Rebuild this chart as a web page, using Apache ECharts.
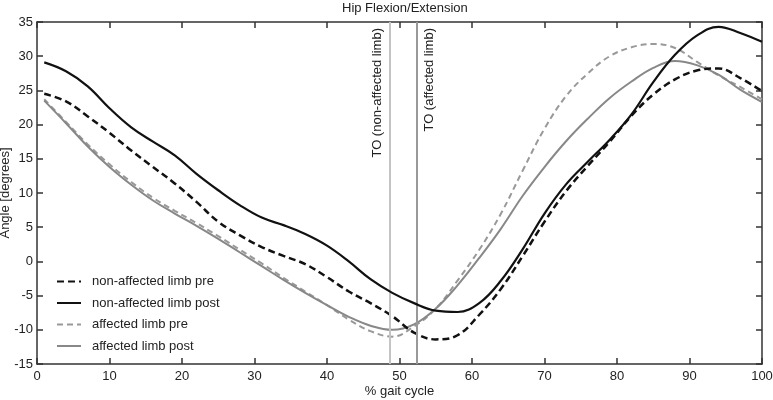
<!DOCTYPE html>
<html>
<head>
<meta charset="utf-8">
<script src="https://cdn.jsdelivr.net/npm/echarts@6/dist/echarts.min.js"></script>
<style>
  html, body { margin: 0; padding: 0; background: #fff; }
  #chart { width: 773px; height: 400px; }
</style>
</head>
<body>
<div id="chart"></div>
<script>
// % gait cycle samples
const gait = [1, 4, 7, 10, 13, 16, 19, 22, 25, 28, 31, 34, 37, 40, 43, 46, 49, 52, 55, 58, 61, 64, 67, 70, 73, 76, 79, 82, 85, 88, 91, 94, 97, 100];

const nonAffectedPre = [24.5, 23.4, 21.2, 18.8, 16.2, 13.8, 11.4, 8.7, 5.8, 3.8, 2.1, 0.8, -0.4, -2.3, -4.4, -6.1, -8.0, -10.4, -11.4, -10.8, -7.8, -4.0, 0.8, 5.8, 10.3, 14.0, 17.5, 21.3, 24.4, 26.6, 27.9, 28.2, 26.8, 24.9];
const nonAffectedPost = [29.1, 27.8, 25.6, 22.4, 19.6, 17.5, 15.5, 12.8, 10.4, 8.2, 6.4, 5.3, 4.0, 2.3, 0.0, -2.6, -4.6, -6.1, -7.2, -7.4, -6.1, -2.8, 1.8, 7.0, 11.3, 14.6, 17.8, 21.5, 26.2, 30.2, 33.0, 34.3, 33.4, 32.1];
const affectedPre = [23.7, 20.4, 17.1, 14.2, 11.6, 9.3, 7.4, 5.6, 3.7, 1.7, -0.3, -2.4, -4.4, -6.4, -8.5, -10.2, -11.0, -9.5, -6.9, -2.8, 1.7, 7.0, 13.3, 19.4, 24.2, 27.5, 30.0, 31.3, 31.8, 31.2, 29.2, 27.2, 25.5, 23.7];
const affectedPost = [23.5, 20.2, 16.8, 13.8, 11.2, 8.9, 7.0, 5.2, 3.3, 1.3, -0.7, -2.7, -4.6, -6.4, -8.1, -9.4, -10.0, -9.2, -6.9, -3.5, 0.5, 4.8, 9.6, 13.8, 17.6, 20.9, 23.9, 26.3, 28.3, 29.3, 28.7, 27.3, 25.1, 23.3];

// toe-off positions (% gait cycle)
const toNonAffected = 48.7;
const toAffected = 52.4;

const font = "'Liberation Sans', Arial, sans-serif";
const axisColor = "#333";
const textColor = "#222";

const pairs = (ys) => gait.map((x, i) => [x, ys[i]]);

const chart = echarts.init(document.getElementById("chart"));

// box axes on top and right: ticks only
const boxAxis = (extra) => Object.assign({
  type: "value",
  axisLine: { show: true, onZero: false, lineStyle: { color: axisColor, width: 1.5 } },
  axisTick: { show: true, inside: true, length: 6, lineStyle: { color: axisColor, width: 1.5 } },
  axisLabel: { show: false },
  splitLine: { show: false }
}, extra);

const option = {
  animation: false,
  textStyle: { fontFamily: font },
  title: {
    text: "Hip Flexion/Extension",
    left: 337,
    top: -3,
    textStyle: { fontSize: 13, fontWeight: "normal", color: textColor, fontFamily: font }
  },
  grid: { left: 37, right: 11, top: 22, bottom: 36, outerBoundsMode: "none", containLabel: false },
  legend: {
    orient: "vertical",
    left: 51,
    top: 270,
    itemWidth: 24,
    itemHeight: 12,
    itemGap: 8.5,
    itemStyle: { opacity: 0 },
    textStyle: { fontSize: 13, color: textColor, fontFamily: font, padding: [0, 0, 0, 6] },
    data: ["non-affected limb pre", "non-affected limb post", "affected limb pre", "affected limb post"]
  },
  xAxis: [
    {
      type: "value",
      min: 0,
      max: 100,
      interval: 10,
      name: "% gait cycle",
      nameLocation: "middle",
      nameGap: 21,
      nameMoveOverlap: false,
      nameTextStyle: { fontSize: 13, color: textColor, fontFamily: font },
      axisLine: { show: true, onZero: false, lineStyle: { color: axisColor, width: 1.5 } },
      axisTick: { show: true, inside: true, length: 6, lineStyle: { color: axisColor, width: 1.5 } },
      axisLabel: { fontSize: 13, color: textColor, margin: 6, fontFamily: font },
      splitLine: { show: false }
    },
    boxAxis({ position: "top", min: 0, max: 100, interval: 10 })
  ],
  yAxis: [
    {
      type: "value",
      min: -15,
      max: 35,
      interval: 5,
      name: "Angle [degrees]",
      nameLocation: "middle",
      nameGap: 25,
      nameMoveOverlap: false,
      nameTextStyle: { fontSize: 13, color: textColor, fontFamily: font },
      axisLine: { show: true, onZero: false, lineStyle: { color: axisColor, width: 1.5 } },
      axisTick: { show: true, inside: true, length: 6, lineStyle: { color: axisColor, width: 1.5 } },
      axisLabel: { fontSize: 13, color: textColor, margin: 4, fontFamily: font },
      splitLine: { show: false }
    },
    boxAxis({ position: "right", min: -15, max: 35, interval: 5 })
  ],
  series: [
    {
      name: "non-affected limb pre",
      type: "line",
      smooth: 0.4,
      symbol: "none",
      lineStyle: { color: "#111", width: 2.5, type: [7, 4] },
      itemStyle: { color: "#111" },
      data: pairs(nonAffectedPre),
      z: 4
    },
    {
      name: "non-affected limb post",
      type: "line",
      smooth: 0.4,
      symbol: "none",
      lineStyle: { color: "#111", width: 2.2 },
      itemStyle: { color: "#111" },
      data: pairs(nonAffectedPost),
      z: 5
    },
    {
      name: "affected limb pre",
      type: "line",
      smooth: 0.4,
      symbol: "none",
      lineStyle: { color: "#999", width: 2, type: [6, 4] },
      itemStyle: { color: "#999" },
      data: pairs(affectedPre),
      z: 3
    },
    {
      name: "affected limb post",
      type: "line",
      smooth: 0.4,
      symbol: "none",
      lineStyle: { color: "#888", width: 2 },
      itemStyle: { color: "#888" },
      data: pairs(affectedPost),
      z: 3,
      markLine: {
        silent: true,
        symbol: "none",
        animation: false,
        data: [
          {
            xAxis: toNonAffected,
            lineStyle: { color: "#c4c4c4", width: 2, type: "solid" },
            label: {
              show: true,
              position: "insideEndTop",
              formatter: "TO (non-affected limb)",
              fontSize: 13,
              color: textColor,
              fontFamily: font,
              distance: 6
            }
          },
          {
            xAxis: toAffected,
            lineStyle: { color: "#999", width: 2, type: "solid" },
            label: {
              show: true,
              position: "insideEndBottom",
              formatter: "TO (affected limb)",
              fontSize: 13,
              color: textColor,
              fontFamily: font,
              distance: 6
            }
          }
        ]
      }
    }
  ]
};

chart.setOption(option);
</script>
</body>
</html>
